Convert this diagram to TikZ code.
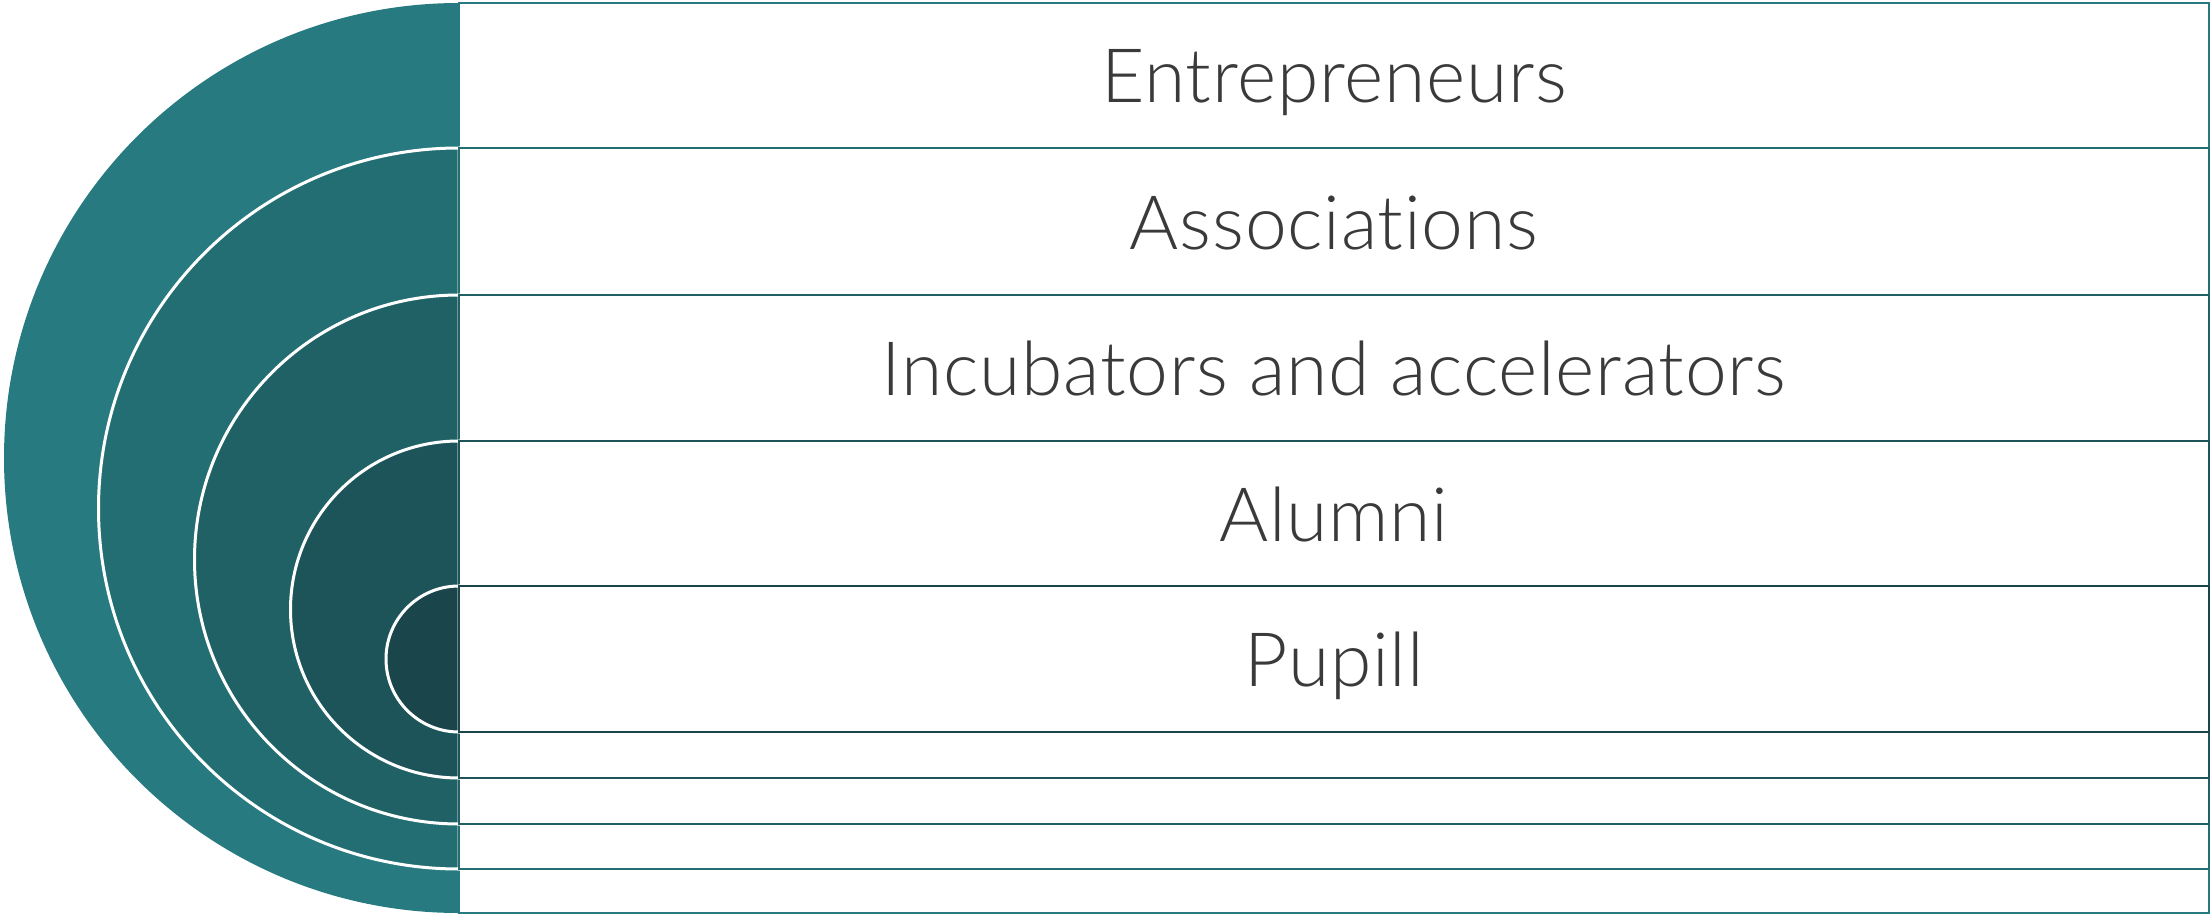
\documentclass[tikz,border=0pt]{standalone}
\usepackage{fontspec}
\setmainfont{Lato}[UprightFont={* Light}, Ligatures={NoCommon}, LetterSpace=1.0]
\definecolor{cA}{HTML}{267A80}
\definecolor{cB}{HTML}{236E73}
\definecolor{cC}{HTML}{206166}
\definecolor{cD}{HTML}{1D5459}
\definecolor{cE}{HTML}{1A454A}
\definecolor{txt}{HTML}{3A3A3A}
\tikzset{
  band/.style={draw=#1, fill=white, line width=2.5pt},
  disc/.style={fill=#1, draw=white, line width=3pt},
  lbl/.style={anchor=base, text=txt, font=\fontsize{75}{90}\selectfont, inner sep=0pt}
}
\begin{document}
\begin{tikzpicture}[x=1pt,y=-1pt]
\useasboundingbox (0,0) rectangle (2211,915);
% level 1
\fill[cA] (459,3) arc[start angle=270,end angle=90,radius=455] -- cycle;
\draw[band=cA] (459,3) rectangle (2209,913);
% level 2
\draw[disc=cB] (459,148) arc[start angle=270,end angle=90,radius=360.5] -- cycle;
\draw[band=cB] (459,148) rectangle (2209,869);
% level 3
\draw[disc=cC] (459,295) arc[start angle=270,end angle=90,radius=264.5] -- cycle;
\draw[band=cC] (459,295) rectangle (2209,824);
% level 4
\draw[disc=cD] (459,441) arc[start angle=270,end angle=90,radius=168.5] -- cycle;
\draw[band=cD] (459,441) rectangle (2209,778);
% level 5
\draw[disc=cE] (459,586) arc[start angle=270,end angle=90,radius=73] -- cycle;
\draw[band=cE] (459,586) rectangle (2209,732);
% labels
\node[lbl] (t1) at (1334,103) {Entrepreneurs};
\node[lbl] (t2) at (1334,249) {Associations};
\node[lbl] (t3) at (1334,395.5) {Incubators and accelerators};
\node[lbl] (t4) at (1334,541) {Alumni};
\node[lbl] (t5) at (1334,686.5) {Pupill};
\end{tikzpicture}
\end{document}
